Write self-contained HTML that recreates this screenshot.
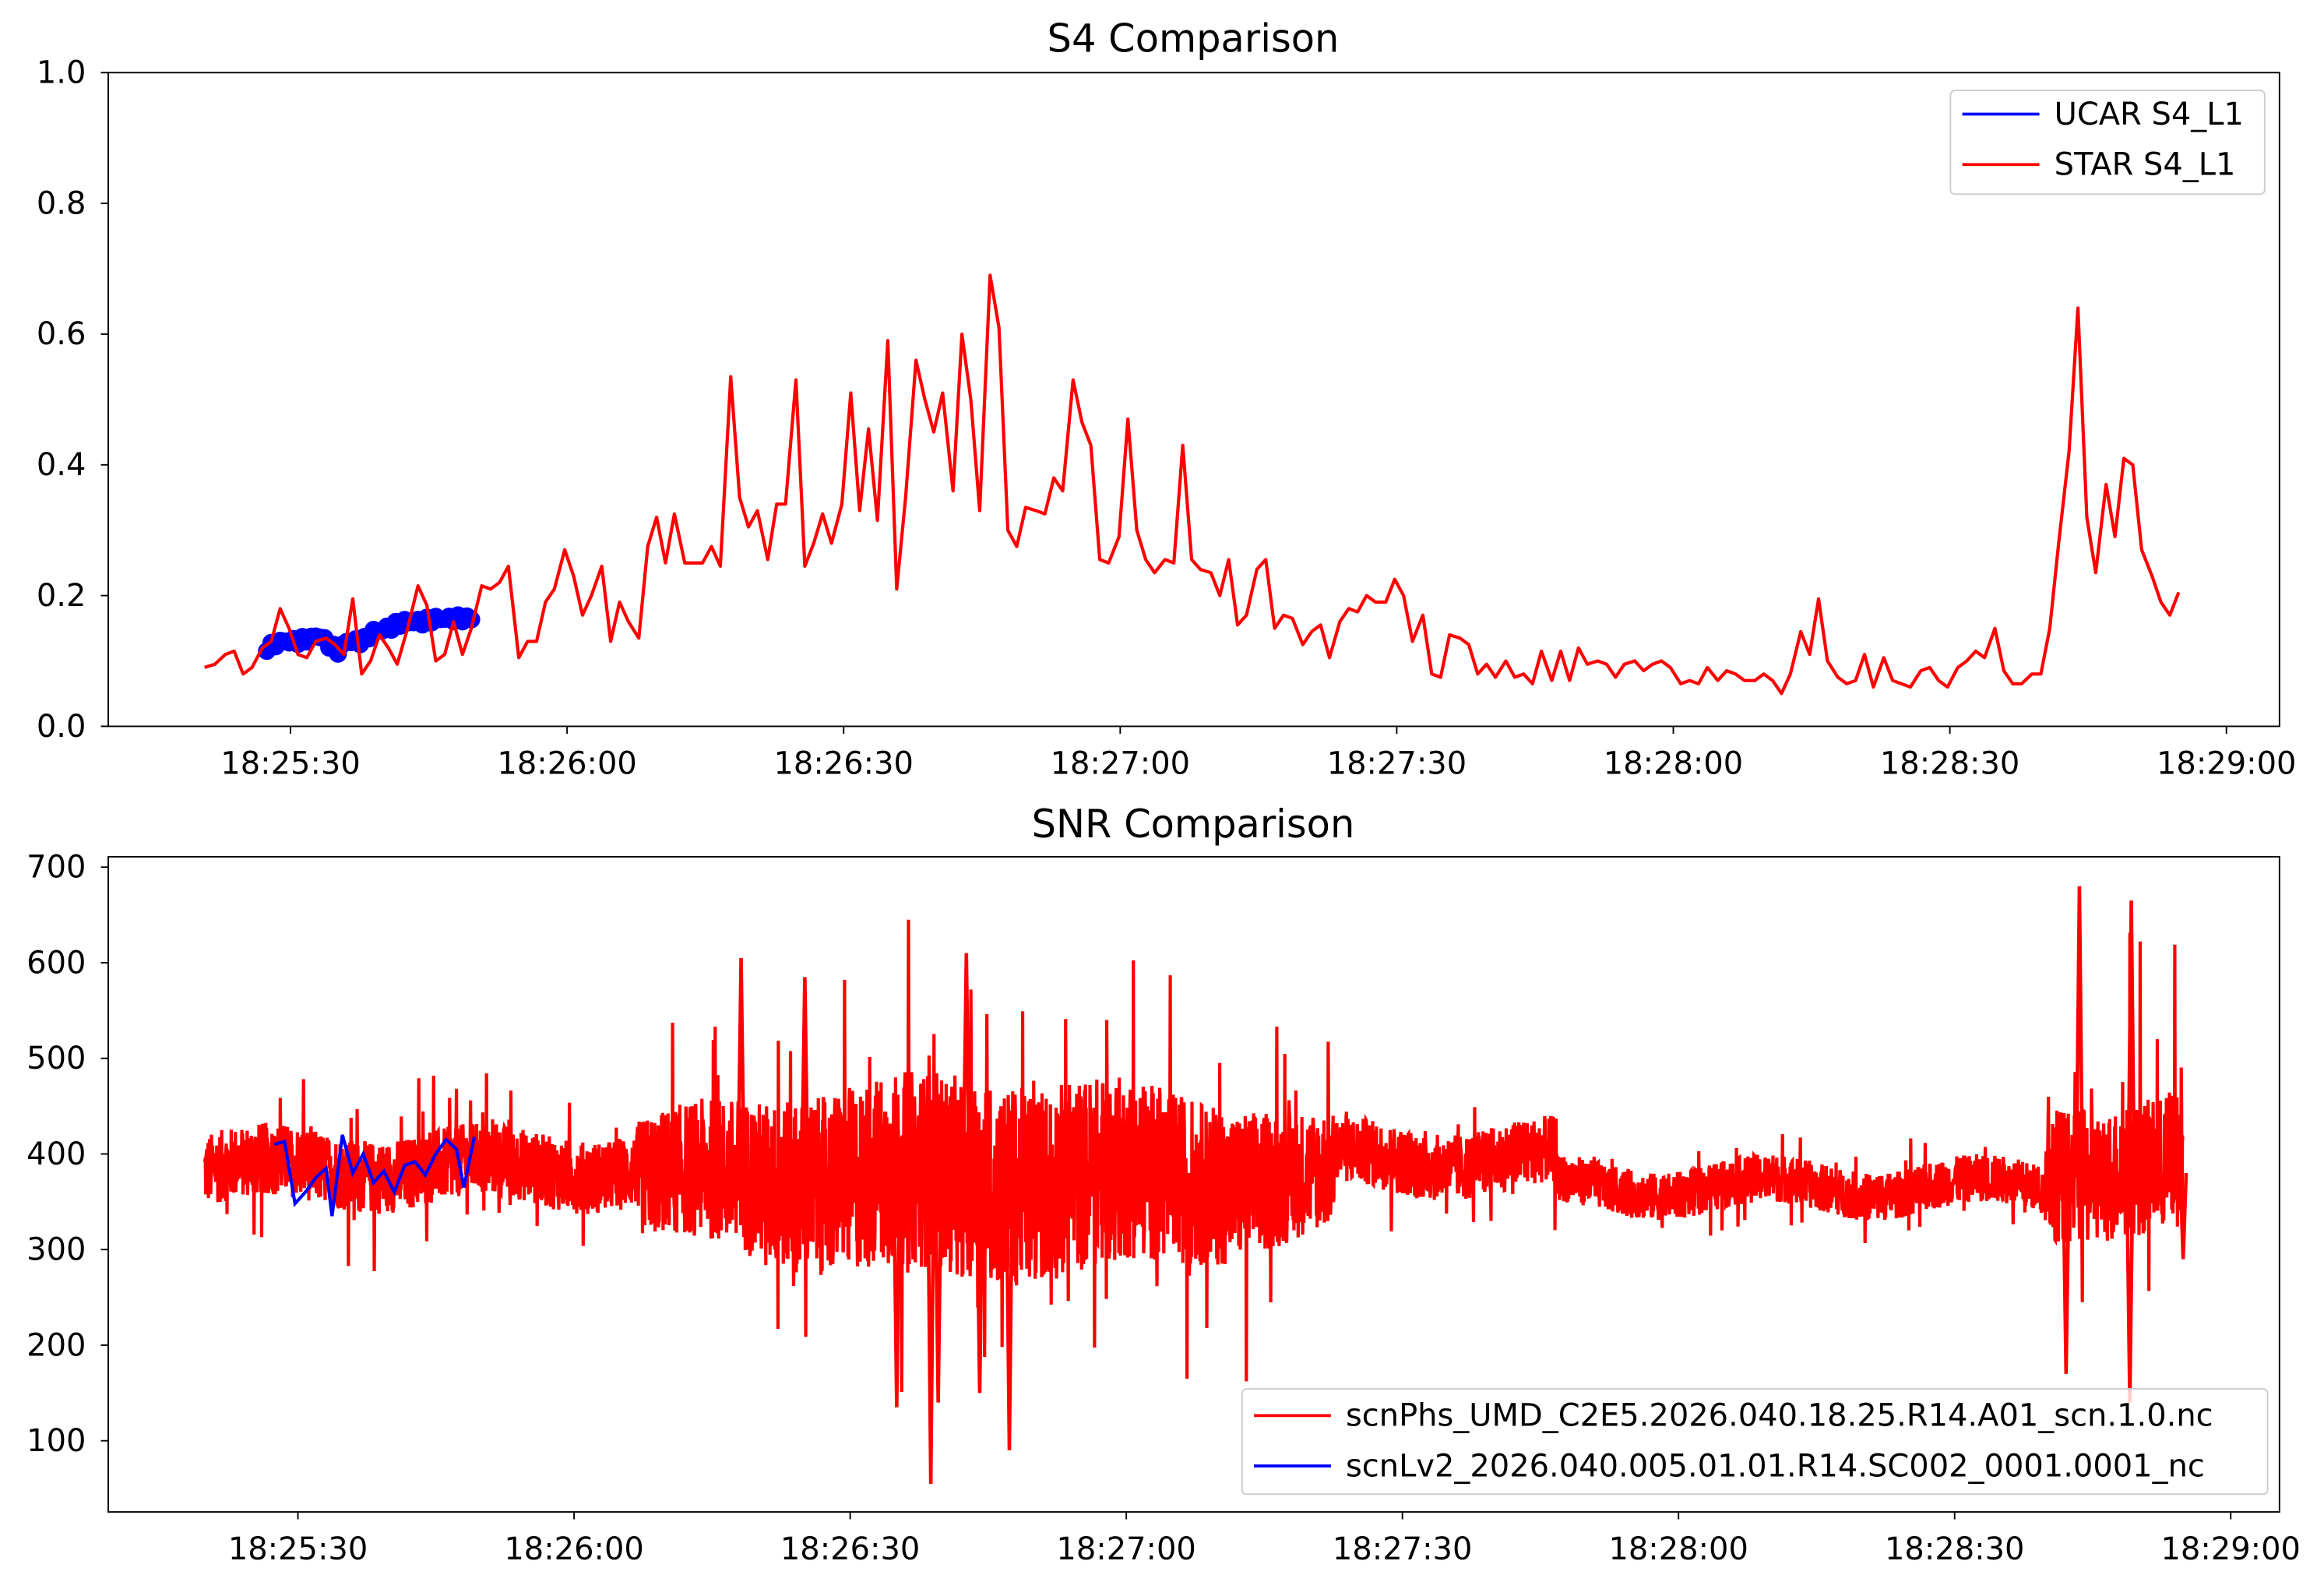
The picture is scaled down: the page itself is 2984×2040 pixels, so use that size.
<!DOCTYPE html>
<html><head><meta charset="utf-8"><style>html,body{margin:0;padding:0;background:#fff}svg{display:block}</style></head>
<body>
<svg id="s" xmlns="http://www.w3.org/2000/svg" width="2984" height="2040" viewBox="0 0 1568 1072" font-family="'DejaVu Sans','Liberation Sans',sans-serif" font-size="21">
<rect width="1568" height="1072" fill="#fff"/>
<text x="805" y="35" font-size="26" text-anchor="middle">S4 Comparison</text>
<text x="805" y="565" font-size="26" text-anchor="middle">SNR Comparison</text>
<g id="gtop"></g>
<g id="gbot"></g>
<rect x="73" y="49" width="1465" height="441" fill="none" stroke="#000" stroke-width="1"/>
<rect x="73" y="578" width="1465" height="442" fill="none" stroke="#000" stroke-width="1"/>
<g id="ticks"></g>
<g>
<rect x="1316" y="61" width="212" height="70" rx="3" fill="#fff" fill-opacity="0.8" stroke="#ccc"/>
<line x1="1324" y1="77" x2="1376" y2="77" stroke="#00f" stroke-width="2"/>
<text x="1386" y="84">UCAR S4_L1</text>
<line x1="1324" y1="111" x2="1376" y2="111" stroke="#f00" stroke-width="2"/>
<text x="1386" y="118">STAR S4_L1</text>
</g>
<g>
<rect x="838" y="937" width="692" height="71" rx="3" fill="#fff" fill-opacity="0.8" stroke="#ccc"/>
<line x1="846" y1="955" x2="898" y2="955" stroke="#f00" stroke-width="2"/>
<text x="908" y="962">scnPhs_UMD_C2E5.2026.040.18.25.R14.A01_scn.1.0.nc</text>
<line x1="846" y1="989" x2="898" y2="989" stroke="#00f" stroke-width="2"/>
<text x="908" y="996">scnLv2_2026.040.005.01.01.R14.SC002_0001.0001_nc</text>
</g>
</svg>
<script>
(function(){
var NS="http://www.w3.org/2000/svg";
function el(p,n,a,t){var e=document.createElementNS(NS,n);for(var k in a)e.setAttribute(k,a[k]);if(t!==undefined)e.textContent=t;p.appendChild(e);return e;}
var tk=document.getElementById('ticks');
for(var i=0;i<=5;i++){var y=490-i*88.2;el(tk,'line',{x1:68,x2:73,y1:y,y2:y,stroke:'#000'});el(tk,'text',{x:58,y:y+7,'text-anchor':'end'},(i*0.2).toFixed(1));}
var labs=['18:25:30','18:26:00','18:26:30','18:27:00','18:27:30','18:28:00','18:28:30','18:29:00'];
for(var i=0;i<8;i++){var x=196+i*186.6;el(tk,'line',{x1:x,x2:x,y1:490,y2:495,stroke:'#000'});el(tk,'text',{x:x,y:522,'text-anchor':'middle'},labs[i]);}
for(var i=1;i<=7;i++){var y=972-(i-1)*64.5;el(tk,'line',{x1:68,x2:73,y1:y,y2:y,stroke:'#000'});el(tk,'text',{x:58,y:y+7,'text-anchor':'end'},i*100);}
for(var i=0;i<8;i++){var x=201+i*186.3;el(tk,'line',{x1:x,x2:x,y1:1020,y2:1025,stroke:'#000'});el(tk,'text',{x:x,y:1052,'text-anchor':'middle'},labs[i]);}
var d=[138,.09,145,.095,152,.11,158,.115,164,.08,170,.09,177,.12,183,.13,189,.18,195,.15,201,.11,207,.105,213,.13,220,.135,226,.125,232,.11,238,.195,244,.08,250,.1,256,.14,262,.12,268,.095,275,.15,282,.215,288,.185,294,.1,300,.11,306,.16,312,.11,318,.15,325,.215,331,.21,337,.22,343,.245,350,.105,356,.13,362,.13,368,.19,374,.21,381,.27,387,.23,393,.17,399,.2,406,.245,412,.13,418,.19,424,.16,431,.135,437,.275,443,.32,449,.25,455,.325,462,.25,468,.25,474,.25,480,.275,486,.245,493,.535,499,.35,505,.305,511,.33,518,.255,524,.34,530,.34,537,.53,543,.245,549,.28,555,.325,561,.28,568,.34,574,.51,580,.33,586,.455,592,.315,599,.59,605,.21,611,.35,618,.56,624,.5,630,.45,636,.51,643,.36,649,.6,655,.5,661,.33,668,.69,674,.61,680,.3,686,.275,692,.335,699,.33,705,.325,711,.38,717,.36,724,.53,730,.465,736,.43,742,.255,748,.25,755,.29,761,.47,767,.3,773,.255,779,.235,786,.255,792,.25,798,.43,804,.255,810,.24,817,.235,823,.2,829,.255,835,.155,841,.17,848,.24,854,.255,860,.15,866,.17,872,.165,879,.125,885,.145,891,.155,897,.105,904,.16,910,.18,916,.175,922,.2,928,.19,935,.19,941,.225,947,.2,953,.13,960,.17,966,.08,972,.075,978,.14,985,.135,991,.125,997,.08,1003,.095,1009,.075,1016,.1,1022,.075,1028,.08,1034,.065,1040,.115,1047,.07,1053,.115,1059,.07,1065,.12,1071,.095,1078,.1,1084,.095,1090,.075,1096,.095,1103,.1,1109,.085,1115,.095,1121,.1,1127,.09,1134,.065,1140,.07,1146,.065,1152,.09,1159,.07,1165,.085,1171,.08,1177,.07,1184,.07,1190,.08,1196,.07,1202,.05,1208,.08,1215,.145,1221,.11,1227,.195,1233,.1,1240,.075,1246,.065,1252,.07,1258,.11,1264,.06,1271,.105,1277,.07,1283,.065,1289,.06,1296,.085,1302,.09,1308,.07,1314,.06,1321,.09,1327,.1,1333,.115,1339,.105,1346,.15,1352,.085,1358,.065,1364,.065,1371,.08,1377,.08,1383,.15,1389,.28,1396,.42,1402,.64,1408,.32,1414,.235,1421,.37,1427,.29,1433,.41,1439,.4,1445,.27,1452,.23,1458,.19,1464,.17,1470,.205];
var gt=document.getElementById('gtop');
var bv=[[180,.12],[190,.13],[200,.13],[210,.135],[215,.14],[222,.125],[228,.115],[234,.13],[245,.13],[252,.145],[262,.15],[272,.16],[285,.16],[295,.165],[305,.165],[318,.165]];
function bval(x){for(var i=1;i<bv.length;i++){if(x<=bv[i][0]){var t=(x-bv[i-1][0])/(bv[i][0]-bv[i-1][0]);return bv[i-1][1]+t*(bv[i][1]-bv[i-1][1]);}}return .165;}
var bp="";
for(var x=180;x<=318;x+=3){var v=bval(x)+0.005*Math.sin(x*0.9);var y=490-v*441;el(gt,'circle',{cx:x,cy:y,r:6,fill:'#00f'});bp+=(bp?'L':'M')+x+','+y.toFixed(1);}
el(gt,'path',{d:bp,fill:'none',stroke:'#00f','stroke-width':2});
var p="";for(var i=0;i<d.length;i+=2)p+=(i?'L':'M')+d[i]+','+(490-d[i+1]*441).toFixed(1);
el(gt,'path',{d:p,fill:'none',stroke:'#f00','stroke-width':2.2,'stroke-linejoin':'round'});
var seed=12345;function rnd(){seed=(seed*1103515245+12345)%2147483648;return seed/2147483648;}
function Y(v){return 972-(v-100)*0.645;}
function env(x){
 if(x<430)return [385,38,70];
 if(x<900){var c=Math.sin((x-430)/470*Math.PI);return [375,60+45*c,140+60*c];}
 if(x<1050)return [395,35,60];
 if(x<1380)return [365,25,40];
 return [385,70,200];}
var q="";var N=5200;
for(var i=0;i<N;i++){var x=138+(1473-138)*i/N;var e=env(x);var v=e[0]+(rnd()*2-1)*e[1]+10*Math.sin(x/23);
 if(rnd()<0.05)v+=(rnd()<0.5?-1:1)*e[2]*rnd();
 q+=(i?'L':'M')+x.toFixed(2)+','+Y(v).toFixed(1);}
var gb=document.getElementById('gbot');
el(gb,'path',{d:q,fill:'none',stroke:'#f00','stroke-width':2.2});
var sp=[[628,55],[500,605],[543,585],[652,610],[681,90],[633,140],[1403,680],[1438,665],[1437,140],[1394,170],[605,135],[661,150],[1473,290]];
sp.forEach(function(s){var yy=Y(s[1]);el(gb,'path',{d:'M'+(s[0]-2)+','+Y(380)+'L'+s[0]+','+yy+'L'+(s[0]+2)+','+Y(380),fill:'none',stroke:'#f00','stroke-width':2.4});});
var bl=[185,410,192,413,199,348,206,360,213,375,220,385,224,335,231,420,238,380,245,400,252,370,259,382,266,360,273,388,280,392,287,378,294,400,301,415,308,405,313,365,320,418];
var b="";for(var i=0;i<bl.length;i+=2)b+=(i?'L':'M')+bl[i]+','+Y(bl[i+1]).toFixed(1);
el(gb,'path',{d:b,fill:'none',stroke:'#00f','stroke-width':2.2});
})();
</script>
</body></html>
